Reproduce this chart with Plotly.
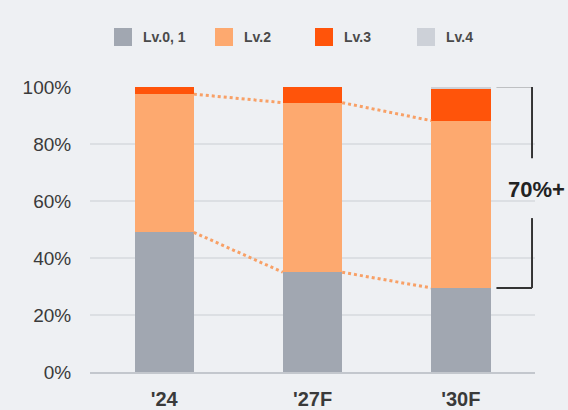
import plotly.graph_objects as go

# Share of vehicles by autonomy level (%)
years = ["'24", "'27F", "'30F"]
lv01 = [49, 35, 29.5]
lv2 = [48.5, 59.5, 58.7]
lv3 = [2.5, 5.5, 11.3]
lv4 = [0, 0, 0.5]

series_names = ["Lv.0, 1", "Lv.2", "Lv.3", "Lv.4"]
series_values = [lv01, lv2, lv3, lv4]
colors = ["#a1a7b1", "#fda96f", "#ff540a", "#cdd1d8"]

BG = "#eef0f3"
TEXT = "#3a3a3a"
FONT = "Liberation Sans, Arial, sans-serif"
BAR_W = 0.4

fig = go.Figure()
for name, vals, col in zip(series_names, series_values, colors):
    fig.add_bar(x=list(range(len(years))), y=vals, name=name,
                marker=dict(color=col, line=dict(width=0)), width=BAR_W,
                showlegend=False)

# dotted connectors between segment boundaries of neighbouring bars
top01 = lv01
top2 = [a + b for a, b in zip(lv01, lv2)]
for tops in (top01, top2):
    for i in range(len(years) - 1):
        fig.add_scatter(x=[i + BAR_W / 2, i + 1 - BAR_W / 2], y=[tops[i], tops[i + 1]],
                        mode="lines", line=dict(color="#f8a066", width=3, dash="dot"),
                        showlegend=False, hoverinfo="skip")

# bracket next to the last bar
last = len(years) - 1
total_last = sum(v[last] for v in series_values)
bx0, bx1 = last + 0.24, last + 0.48
bline = dict(color="#333333", width=2)
fig.add_shape(type="line", x0=bx0, x1=bx1, y0=total_last + 0.3, y1=total_last + 0.3, line=bline)
fig.add_shape(type="line", x0=bx0, x1=bx1, y0=lv01[last], y1=lv01[last], line=bline)
fig.add_shape(type="line", x0=bx1, x1=bx1, y0=total_last + 0.3, y1=75, line=bline)
fig.add_shape(type="line", x0=bx1, x1=bx1, y0=54, y1=lv01[last], line=bline)
fig.add_annotation(x=last + 0.305, y=64, text="<b>70%+</b>", showarrow=False,
                   xanchor="left", yanchor="middle",
                   font=dict(family=FONT, size=22, color="#222222"))

# legend row
leg_x = [114, 215, 315, 417]
for name, col, lx in zip(series_names, colors, leg_x):
    fig.add_shape(type="rect", xref="paper", yref="paper",
                  x0=(lx - 90) / 445, x1=(lx + 18 - 90) / 445,
                  y0=(372 - 46) / 285, y1=(372 - 28) / 285,
                  fillcolor=col, line=dict(width=0))
    fig.add_annotation(xref="paper", yref="paper", x=(lx + 27 - 90) / 445,
                       y=(372 - 37) / 285, text=name, showarrow=False,
                       xanchor="left", yanchor="middle",
                       font=dict(family=FONT, size=14, color="#4a4a4a", weight=600))

fig.update_layout(
    barmode="stack",
    width=568, height=410,
    margin=dict(l=90, r=33, t=87, b=38),
    paper_bgcolor=BG, plot_bgcolor=BG,
    font=dict(family=FONT, color=TEXT),
    bargap=0,
)
fig.update_xaxes(
    range=[-0.5, 2.5], tickvals=list(range(len(years))), ticktext=years,
    tickfont=dict(size=20, color=TEXT, weight=600),
    ticks="outside", ticklen=8, tickcolor="rgba(0,0,0,0)",
    showgrid=False, showline=True, linecolor="#c3c7cd", linewidth=1.5,
    zeroline=False, fixedrange=True, automargin=False,
)
fig.update_yaxes(
    range=[0, 100], tickvals=[0, 20, 40, 60, 80, 100],
    ticktext=["0%", "20%", "40%", "60%", "80%", "100%"],
    tickfont=dict(size=19, color=TEXT),
    ticks="outside", ticklen=14, tickcolor="rgba(0,0,0,0)",
    showgrid=True, gridcolor="#dcdfe3", gridwidth=1.5,
    zeroline=False, showline=False, fixedrange=True, automargin=False,
)

fig.write_html("out.html")
